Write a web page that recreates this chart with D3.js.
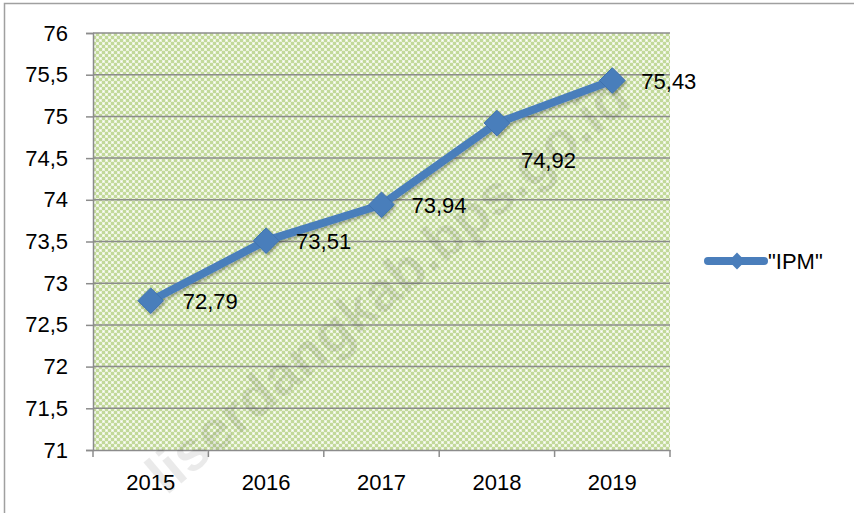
<!DOCTYPE html>
<html>
<head>
<meta charset="utf-8">
<script src="https://cdn.jsdelivr.net/npm/d3@7"></script>
<style>
  body { margin: 0; background: #fff; }
  svg { display: block; font-family: "Liberation Sans", Arial, sans-serif; }
</style>
</head>
<body>
<svg id="chart" width="854" height="513"></svg>
<script>
const years = ["2015", "2016", "2017", "2018", "2019"];
const ipm = [72.79, 73.51, 73.94, 74.92, 75.43];
const yTicks = [71, 71.5, 72, 72.5, 73, 73.5, 74, 74.5, 75, 75.5, 76];
const seriesName = '"IPM"';
const watermark = "liserdangkab.bps.go.id";

const svg = d3.select("#chart");
const m = { left: 93, right: 670, top: 33, bottom: 450 };
const fmt = v => String(v).replace(".", ",");

// confetti pattern for plot background
const defs = svg.append("defs");
const pat = defs.append("pattern").attr("id", "conf")
  .attr("width", 6).attr("height", 6).attr("patternUnits", "userSpaceOnUse");
pat.append("rect").attr("width", 6).attr("height", 6).attr("fill", "#c2d99a");
[[0, 0], [3, 3]].forEach(p =>
  pat.append("rect").attr("x", p[0]).attr("y", p[1]).attr("width", 3).attr("height", 3).attr("fill", "#eaf2dc"));
[[1, 1], [4, 4]].forEach(p =>
  pat.append("rect").attr("x", p[0]).attr("y", p[1]).attr("width", 1).attr("height", 1).attr("fill", "#fff"));

const shadow = defs.append("filter").attr("id", "sh").attr("x", "-20%").attr("y", "-20%").attr("width", "140%").attr("height", "140%");
shadow.append("feDropShadow").attr("dx", 1.5).attr("dy", 2).attr("stdDeviation", 1.5).attr("flood-color", "#000").attr("flood-opacity", 0.3);

// outer border (left + top)
svg.append("path").attr("d", "M4.5,513 L4.5,3.5 L854,3.5")
  .attr("fill", "none").attr("stroke", "#a0a0a0").attr("stroke-width", 1.5);

const x = d3.scaleBand().domain(years).range([m.left, m.right]);
const y = d3.scaleLinear().domain([71, 76]).range([m.bottom, m.top]);

svg.append("rect").attr("x", m.left).attr("y", m.top)
  .attr("width", m.right - m.left).attr("height", m.bottom - m.top)
  .attr("fill", "url(#conf)");

// gridlines
svg.append("g").selectAll("line").data(yTicks.slice(1)).join("line")
  .attr("x1", m.left).attr("x2", m.right)
  .attr("y1", d => y(d)).attr("y2", d => y(d))
  .attr("stroke", "#8c8c8c").attr("stroke-width", 1.5);

// y axis
const yAxis = svg.append("g").attr("transform", `translate(${m.left},0)`)
  .call(d3.axisLeft(y).tickValues(yTicks).tickFormat(fmt).tickSize(7).tickPadding(18));
yAxis.select(".domain").attr("stroke", "#8c8c8c").attr("stroke-width", 1.5);
yAxis.selectAll(".tick line").attr("stroke", "#8c8c8c").attr("stroke-width", 1.5);
yAxis.selectAll("text").attr("font-size", 22).attr("fill", "#000");

// x axis
const xAxis = svg.append("g").attr("transform", `translate(0,${m.bottom})`)
  .call(d3.axisBottom(x).tickSize(0).tickPadding(24));
xAxis.select(".domain").attr("stroke", "#8c8c8c").attr("stroke-width", 1.5);
xAxis.selectAll("text").attr("font-size", 22).attr("fill", "#000");
const bounds = years.map(d => x(d)).concat([m.right]);
xAxis.selectAll(".bt").data(bounds).join("line").attr("class", "bt")
  .attr("x1", d => d).attr("x2", d => d).attr("y1", 0).attr("y2", 7)
  .attr("stroke", "#8c8c8c").attr("stroke-width", 1.5);

// watermark
svg.append("text")
  .attr("transform", "translate(400,300) rotate(-40)")
  .attr("text-anchor", "middle")
  .attr("font-size", 56).attr("font-weight", "bold")
  .attr("fill", "#000").attr("opacity", 0.08)
  .text(watermark);

// series
const cx = d => x(d) + x.bandwidth() / 2;
const line = d3.line().x(d => cx(d[0])).y(d => y(d[1]));
const pts = years.map((d, i) => [d, ipm[i]]);
const g = svg.append("g").attr("filter", "url(#sh)");
g.append("path").datum(pts).attr("d", line)
  .attr("fill", "none").attr("stroke", "#4a7ebb").attr("stroke-width", 8)
  .attr("stroke-linejoin", "round").attr("stroke-linecap", "round");
const diamond = d3.symbol().type(d3.symbolDiamond2).size(420);
g.selectAll(".mk").data(pts).join("path").attr("class", "mk")
  .attr("transform", d => `translate(${cx(d[0])},${y(d[1])})`)
  .attr("d", diamond).attr("fill", "#4a7ebb").attr("stroke", "#3f72ad").attr("stroke-width", 1);

// data labels
const labOff = [[32, 8], [30, 8], [30, 8], [24, 45], [29, 8]];
svg.append("g").selectAll("text").data(pts).join("text")
  .attr("x", (d, i) => cx(d[0]) + labOff[i][0])
  .attr("y", (d, i) => y(d[1]) + labOff[i][1])
  .attr("font-size", 22).attr("fill", "#000")
  .text(d => fmt(d[1]));

// legend
const lg = svg.append("g").attr("transform", "translate(708,261)");
lg.append("line").attr("x1", 0).attr("x2", 56).attr("y1", 0).attr("y2", 0)
  .attr("stroke", "#4a7ebb").attr("stroke-width", 8).attr("stroke-linecap", "round");
lg.append("path").attr("transform", "translate(29,0)")
  .attr("d", d3.symbol().type(d3.symbolDiamond2).size(180)).attr("fill", "#4a7ebb");
lg.append("text").attr("x", 60).attr("y", 8).attr("font-size", 22).attr("fill", "#000").text(seriesName);
</script>
</body>
</html>
